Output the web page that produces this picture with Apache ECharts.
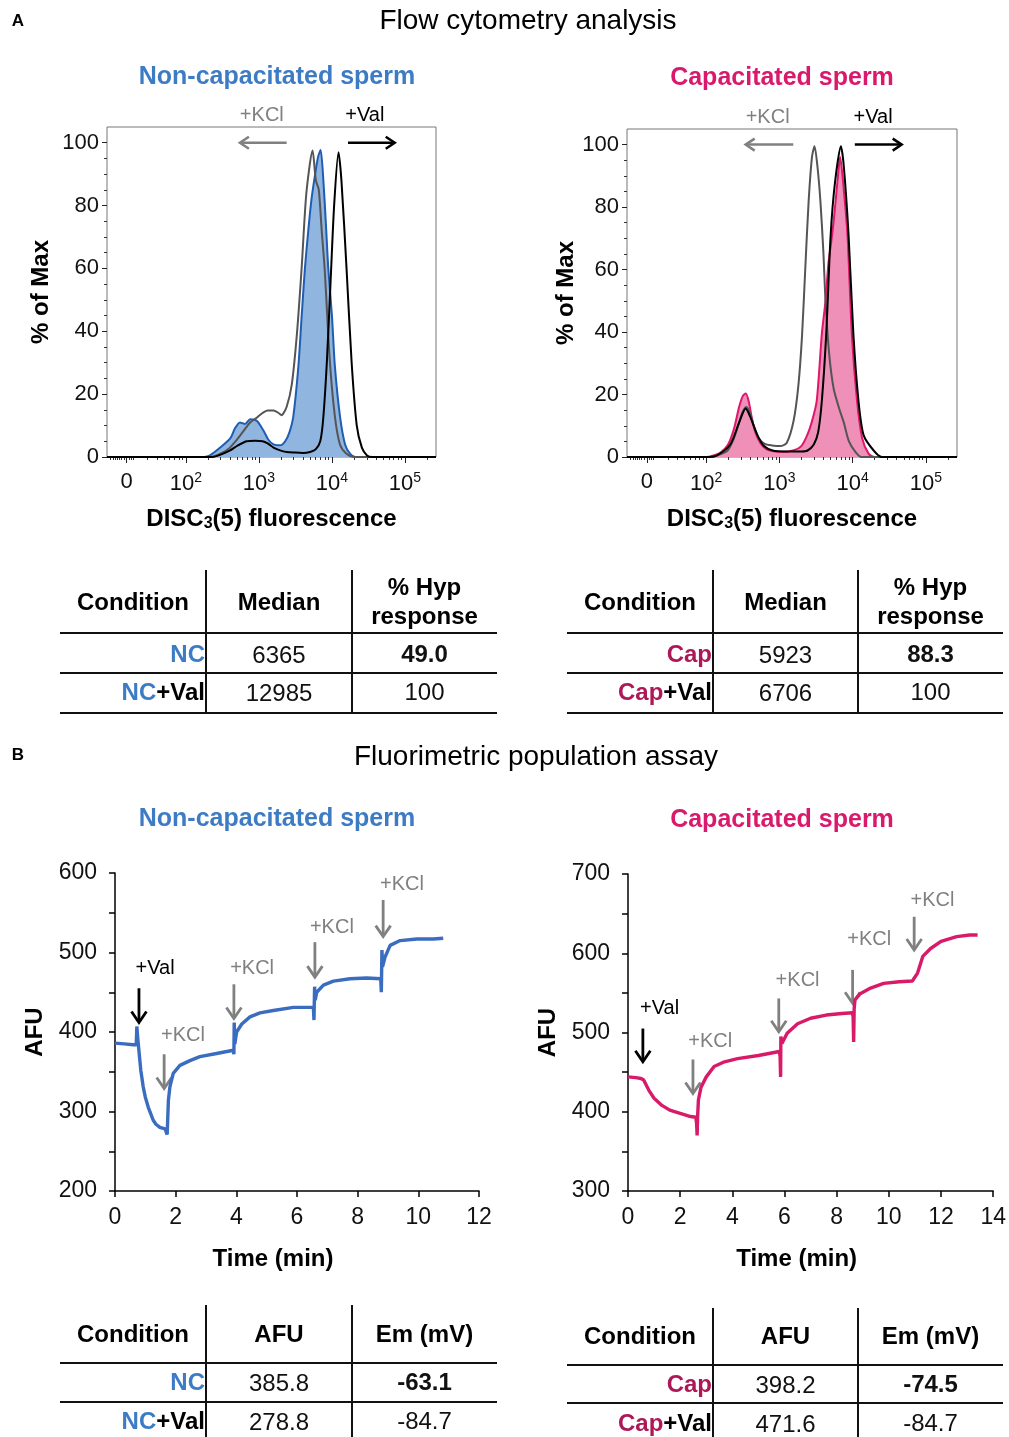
<!DOCTYPE html>
<html><head><meta charset="utf-8">
<script src="https://cdn.jsdelivr.net/npm/echarts@6/dist/echarts.min.js"></script>
<style>html,body{margin:0;padding:0;background:#fff}#c{width:1009px;height:1437px}</style>
</head><body><div id="c"></div>
<script>
const FONT = '"Liberation Sans", Arial, Helvetica, sans-serif';
const BLUE = '#3d7cc4', BLUE_LINE = '#1f5db3', BLUE_FILL = '#90b5df';
const PINK = '#d9196b', PINK_LINE = '#e0176d', PINK_FILL = '#ee90b8', MAROON = '#ad1857';
const GRAY_LINE = '#555555', ARROW_GRAY = '#808080';

// ---------- A: flow cytometry histograms (x = log10 fluorescence, y = % of max) ----------
const ncFill = [[0.92,0],[2.25,0],[2.33,0.5],[2.47,3],[2.61,6],[2.67,9],[2.74,11],[2.81,10.5],[2.88,12],[2.97,11.5],[3.06,8.5],[3.13,5.5],[3.2,4],[3.29,3.7],[3.36,5],[3.42,8],[3.47,12.7],[3.54,28.7],[3.585,44.6],[3.63,60],[3.68,73],[3.72,82],[3.77,90],[3.81,95.5],[3.845,97.7],[3.88,89],[3.92,73],[3.95,60],[4.0,45],[4.04,29],[4.11,13],[4.18,4],[4.25,1],[4.32,0],[5.425,0]];
const ncKCl = [[0.92,0],[2.35,0],[2.45,0.8],[2.58,2.5],[2.68,5],[2.78,8],[2.88,11],[2.97,12.5],[3.05,14],[3.12,14.8],[3.2,14.8],[3.27,14],[3.31,13.3],[3.38,16],[3.45,23],[3.52,39],[3.585,60],[3.65,84],[3.735,97.5],[3.78,88],[3.82,85],[3.86,72],[3.90,60],[3.97,31],[4.04,13],[4.11,4],[4.2,1],[4.3,0],[5.425,0]];
const ncVal = [[0.92,0],[2.35,0],[2.45,0.5],[2.6,2],[2.7,3.5],[2.83,5],[2.95,5.2],[3.05,5],[3.12,4.3],[3.2,3],[3.28,2.2],[3.38,1.6],[3.5,1.4],[3.6,1.3],[3.7,1.6],[3.78,2.5],[3.84,5],[3.88,12],[3.93,30],[3.98,55],[4.03,80],[4.09,97],[4.13,88],[4.2,60],[4.27,30],[4.34,10],[4.41,3],[4.48,0.5],[4.55,0],[5.425,0]];

const capFill = [[0.92,0],[2.0,0],[2.1,0.5],[2.2,1.5],[2.3,4],[2.38,9],[2.45,16],[2.5,19.5],[2.54,20.3],[2.58,18],[2.62,13],[2.67,8],[2.74,4.5],[2.82,2.5],[2.92,1.8],[3.05,1.6],[3.2,2.2],[3.3,3.5],[3.38,7],[3.44,11],[3.51,18],[3.58,39.5],[3.63,50],[3.67,62],[3.72,71],[3.76,80],[3.8,90],[3.83,96],[3.87,88],[3.93,71],[3.99,39],[4.06,18],[4.13,6],[4.22,1],[4.3,0],[5.425,0]];
const capKCl = [[0.92,0],[2.05,0],[2.15,0.5],[2.29,2],[2.38,6],[2.45,11],[2.5,14.5],[2.55,16],[2.6,14],[2.65,10],[2.72,6],[2.8,4.2],[2.9,3.7],[3.01,3.5],[3.1,4.5],[3.195,11.7],[3.26,23],[3.31,39],[3.355,61],[3.4,82],[3.445,96],[3.48,99.5],[3.52,93],[3.56,82],[3.6,66],[3.63,50],[3.68,33],[3.74,22],[3.81,16],[3.88,11],[3.95,5],[4.04,1.6],[4.12,0],[5.425,0]];
const capVal = [[0.92,0],[2.05,0],[2.15,0.5],[2.33,4],[2.45,11],[2.54,15.5],[2.6,13],[2.7,7],[2.79,3.5],[2.92,2],[3.1,1.8],[3.3,1.8],[3.38,2],[3.47,4],[3.53,8],[3.58,18],[3.64,39.5],[3.70,71],[3.76,88],[3.84,99.5],[3.88,93],[3.945,71],[4.01,39.5],[4.08,18],[4.15,7],[4.29,2],[4.4,0],[5.425,0]];

const histYLabels = [0, 20, 40, 60, 80, 100];
const histYMinor = [5,10,15,25,30,35,45,50,55,65,70,75,85,90,95];
const zeroPos = 1.19;
const histXLabels = [zeroPos, 2, 3, 4, 5];

// ---------- B: fluorimetric traces (time in min, AFU) ----------
const ncTrace = [[0,386],[0.3,385],[0.6,384],[0.7,384],[0.72,407],[0.75,392],[0.78,380],[0.85,352],[0.93,331],[1.0,318],[1.1,305],[1.18,297],[1.26,289],[1.35,284],[1.48,280],[1.65,278],[1.7,276],[1.72,271],[1.76,314],[1.81,331],[1.92,348],[2.14,358],[2.47,364],[2.8,369],[3.35,373],[3.9,377],[3.92,372],[3.93,412],[3.95,385],[4.01,400],[4.18,410],[4.45,419],[4.78,424],[5.22,427],[5.88,431],[6.54,431],[6.56,415],[6.58,457],[6.6,440],[6.65,450],[6.87,459],[7.2,464],[7.75,467],[8.3,468],[8.76,467],[8.78,450],[8.8,503],[8.82,482],[8.9,494],[9.07,509],[9.4,515],[9.95,517],[10.5,517],[10.82,518]];
const capTrace = [[0,444],[0.3,443],[0.5,442],[0.6,440],[0.8,427],[1.0,417],[1.3,408],[1.6,402],[2.0,398],[2.4,394],[2.6,393],[2.63,385],[2.65,370],[2.67,395],[2.7,415],[2.8,431],[3.0,444],[3.3,457],[3.7,463],[4.2,467],[5.0,471],[5.8,476],[5.83,470],[5.85,444],[5.86,495],[5.9,486],[6.1,499],[6.5,511],[7.0,518],[7.6,522],[8.2,524],[8.6,525],[8.63,520],[8.65,488],[8.67,530],[8.7,541],[8.9,549],[9.3,556],[9.8,562],[10.4,564],[10.9,565],[11.1,575],[11.3,596],[11.6,606],[12.0,615],[12.6,621],[13.1,623],[13.4,623]];

// ---------- Tables ----------
const flowNC_cond = ['NC', 'NC+Val'], flowNC_median = ['6365', '12985'], flowNC_hyp = ['49.0', '100'];
const flowCap_cond = ['Cap', 'Cap+Val'], flowCap_median = ['5923', '6706'], flowCap_hyp = ['88.3', '100'];
const fluoNC_cond = ['NC', 'NC+Val'], fluoNC_afu = ['385.8', '278.8'], fluoNC_em = ['-63.1', '-84.7'];
const fluoCap_cond = ['Cap', 'Cap+Val'], fluoCap_afu = ['398.2', '471.6'], fluoCap_em = ['-74.5', '-84.7'];
const flowHeader = ['Condition', 'Median', '% Hyp\nresponse'];
const fluoHeader = ['Condition', 'AFU', 'Em (mV)'];

// ---------- Annotations (in data coordinates) ----------
const ncFlowNotes = [
  {label:'+KCl', color:ARROW_GRAY, text:[3.04,108.6], from:[3.38,100], to:[2.74,100]},
  {label:'+Val', color:'#000', text:[4.45,108.6], from:[4.22,100], to:[4.86,100]}
];
const capFlowNotes = [
  {label:'+KCl', color:ARROW_GRAY, text:[2.84,108.6], from:[3.19,100], to:[2.54,100]},
  {label:'+Val', color:'#000', text:[4.28,108.6], from:[4.03,100], to:[4.67,100]}
];
const ncTraceNotes = [
  {label:'+Val', color:'#000', text:[1.32,480], from:[0.79,455], to:[0.79,412]},
  {label:'+KCl', color:ARROW_GRAY, text:[2.24,396], from:[1.62,372], to:[1.62,329]},
  {label:'+KCl', color:ARROW_GRAY, text:[4.52,480], from:[3.92,460], to:[3.92,417]},
  {label:'+KCl', color:ARROW_GRAY, text:[7.15,532], from:[6.59,513], to:[6.59,469]},
  {label:'+KCl', color:ARROW_GRAY, text:[9.46,585], from:[8.84,566], to:[8.84,520]}
];
const capTraceNotes = [
  {label:'+Val', color:'#000', text:[1.21,530], from:[0.57,505], to:[0.57,463]},
  {label:'+KCl', color:ARROW_GRAY, text:[3.15,489], from:[2.49,466], to:[2.49,423]},
  {label:'+KCl', color:ARROW_GRAY, text:[6.5,566], from:[5.78,543], to:[5.78,501]},
  {label:'+KCl', color:ARROW_GRAY, text:[9.25,617], from:[8.61,579], to:[8.61,537]},
  {label:'+KCl', color:ARROW_GRAY, text:[11.67,666], from:[10.97,646], to:[10.97,604]}
];

// ---------- axis helpers ----------
const histXMin = 0.92, histXMax = 5.425;
const histMajorTicks = [zeroPos, 2, 3, 4, 5];
const histMinorTicks = [0.97,1.0,1.03,1.06,1.09,1.12,1.15,1.22,1.25,1.28];
for (let k = 1; k <= 5; k++) for (let m = 2; m <= 9; m++) {
  const v = k + Math.log10(m);
  if (v > 1.4 && v < histXMax) histMinorTicks.push(v);
}
const TXT = '#111';

function histXAxis(g) {
  return {
    type:'value', gridIndex:g, min:histXMin, max:histXMax, position:'bottom',
    axisLine:{show:false}, splitLine:{show:false},
    axisTick:{show:true, customValues:histMajorTicks, length:6, lineStyle:{color:'#222', width:1}},
    axisLabel:{customValues:histXLabels, fontSize:22, color:TXT, margin:14, fontFamily:FONT,
      formatter: v => Math.abs(v - zeroPos) < 0.01 ? '0' : '10{sup|' + Math.round(v) + '}',
      rich:{sup:{fontSize:14, color:TXT, fontFamily:FONT, padding:[0,0,12,0]}}},
    name:'{b|DISC}{s|3}{b|(5) fluorescence}', nameLocation:'middle', nameGap:49,
    nameTextStyle:{rich:{b:{fontSize:24, fontWeight:'bold', color:'#000', fontFamily:FONT},
      s:{fontSize:16, fontWeight:'bold', color:'#000', fontFamily:FONT, padding:[10,0,0,0]}}}
  };
}
function histXMinorAxis(g) {
  return {type:'value', gridIndex:g, min:histXMin, max:histXMax, position:'bottom',
    axisLine:{show:false}, splitLine:{show:false}, axisLabel:{show:false},
    axisTick:{show:true, customValues:histMinorTicks, length:3, lineStyle:{color:'#333', width:1}}};
}
function histYAxis(g, gap) {
  return {type:'value', gridIndex:g, min:0, max:105, position:'left',
    axisLine:{show:false}, splitLine:{show:false},
    axisTick:{show:true, customValues:histYLabels, length:5, lineStyle:{color:'#222'}},
    axisLabel:{customValues:histYLabels, fontSize:22, color:TXT, margin:8, fontFamily:FONT},
    name:'% of Max', nameLocation:'middle', nameGap:gap,
    nameTextStyle:{fontSize:24, fontWeight:'bold', color:'#000', fontFamily:FONT}};
}
function histYMinorAxis(g) {
  return {type:'value', gridIndex:g, min:0, max:105, position:'left',
    axisLine:{show:false}, splitLine:{show:false}, axisLabel:{show:false},
    axisTick:{show:true, customValues:histYMinor, length:3, lineStyle:{color:'#333'}}};
}
function timeXAxis(g, max, shift) {
  return {type:'value', gridIndex:g, min:0, max:max, interval:2,
    axisLine:{show:true, onZero:false, lineStyle:{color:'#000', width:1.5}},
    axisTick:{show:true, length:6, lineStyle:{color:'#000', width:1.5}},
    axisLabel:{fontSize:23, color:TXT, margin:15, fontFamily:FONT}, splitLine:{show:false},
    name:'Time (min)', nameLocation:'middle', nameGap:56,
    nameTextStyle:{fontSize:24, fontWeight:'bold', color:'#000', fontFamily:FONT, padding:[0, shift, 0, 0]}};
}
function timeYAxis(g, min, max) {
  return {type:'value', gridIndex:g, min:min, max:max, interval:50,
    axisLine:{show:true, onZero:false, lineStyle:{color:'#000', width:1.5}},
    axisTick:{show:true, length:6, lineStyle:{color:'#000', width:1.5}},
    axisLabel:{fontSize:23, color:TXT, margin:18, fontFamily:FONT,
      formatter: v => (v % 100 === 0 ? String(v) : '')},
    splitLine:{show:false},
    name:'AFU', nameLocation:'middle', nameGap:68,
    nameTextStyle:{fontSize:24, fontWeight:'bold', color:'#000', fontFamily:FONT}};
}
function histLine(data, xi, yi, color, fill) {
  const s = {type:'line', data:data, xAxisIndex:xi, yAxisIndex:yi, showSymbol:false, smooth:0.25,
    lineStyle:{color:color, width:2}, itemStyle:{color:color}, silent:true};
  if (fill) s.areaStyle = {color:fill, opacity:1};
  return s;
}

const frame = {show:true, borderColor:'#777', borderWidth:1, backgroundColor:'transparent'};
const option = {
  animation:false,
  textStyle:{fontFamily:FONT},
  grid:[
    Object.assign({left:107, top:127, width:329, height:330}, frame),
    Object.assign({left:627, top:129, width:330, height:328}, frame),
    {left:115, top:873, width:364, height:318},
    {left:628, top:874, width:366, height:317}
  ],
  xAxis:[histXAxis(0), histXMinorAxis(0), histXAxis(1), histXMinorAxis(1), timeXAxis(2, 12, 48), timeXAxis(3, 14, 28)],
  yAxis:[histYAxis(0, 54), histYMinorAxis(0), histYAxis(1, 48), histYMinorAxis(1), timeYAxis(2, 200, 600), timeYAxis(3, 300, 700)],
  series:[
    histLine(ncFill, 0, 0, BLUE_LINE, BLUE_FILL),
    histLine(ncKCl, 0, 0, GRAY_LINE),
    histLine(ncVal, 0, 0, '#000'),
    histLine(capFill, 2, 2, PINK_LINE, PINK_FILL),
    histLine(capKCl, 2, 2, GRAY_LINE),
    histLine(capVal, 2, 2, '#000'),
    {type:'line', data:ncTrace, xAxisIndex:4, yAxisIndex:4, showSymbol:false, lineStyle:{color:'#3a6cc0', width:3.4}, silent:true},
    {type:'line', data:capTrace, xAxisIndex:5, yAxisIndex:5, showSymbol:false, lineStyle:{color:'#d91a69', width:3.4}, silent:true}
  ]
};

const chart = echarts.init(document.getElementById('c'), null, {renderer:'canvas'});
chart.setOption(option);

// ---------- graphic: titles, tables, annotations ----------
const G = [];
function txt(text, x, y, size, weight, color, align) {
  G.push({type:'text', silent:true, style:{text:text, x:x, y:y, fontSize:size, fontWeight:weight || 'normal',
    fontFamily:FONT, fill:color || '#000', align:align || 'center', verticalAlign:'middle', lineHeight:29}});
}
txt('A', 18, 21, 17, 'bold');
txt('Flow cytometry analysis', 528, 21, 28);
txt('Non-capacitated sperm', 277, 77, 25, 'bold', BLUE);
txt('Capacitated sperm', 782, 78, 25, 'bold', PINK);
txt('B', 18, 755, 17, 'bold');
txt('Fluorimetric population assay', 536, 757, 28);
txt('Non-capacitated sperm', 277, 819, 25, 'bold', BLUE);
txt('Capacitated sperm', 782, 820, 25, 'bold', PINK);

function L(x1, y1, x2, y2, color, w) {
  G.push({type:'line', silent:true, shape:{x1:x1, y1:y1, x2:x2, y2:y2}, style:{stroke:color || '#111', lineWidth:w || 2}});
}
function table(t, header, conds, col2, col3, condColor) {
  t.hLines.forEach(y => L(t.x0, y, t.x1, y));
  L(t.v1, t.vTop, t.v1, t.vBottom); L(t.v2, t.vTop, t.v2, t.vBottom);
  const c1 = (t.x0 + t.v1) / 2, c2 = (t.v1 + t.v2) / 2, c3 = (t.v2 + t.x1) / 2;
  txt(header[0], c1, t.headerY, 24, 'bold');
  txt(header[1], c2, t.headerY, 24, 'bold');
  txt(header[2], c3, t.headerY, 24, 'bold');
  conds.forEach((c, i) => {
    const parts = c.split('+');
    const text = '{c|' + parts[0] + '}' + (parts[1] ? '{k|+' + parts[1] + '}' : '');
    G.push({type:'text', silent:true, style:{text:text, x:t.v1 - 1, y:t.rowY[i], align:'right', verticalAlign:'middle',
      rich:{c:{fill:condColor, fontWeight:'bold', fontSize:24, fontFamily:FONT},
            k:{fill:'#000', fontWeight:'bold', fontSize:24, fontFamily:FONT}}}});
    txt(col2[i], c2, t.rowY[i] + 1, 24, 'normal', TXT);
    txt(col3[i], c3, t.rowY[i], 24, i === 0 ? 'bold' : 'normal', TXT);
  });
}
table({x0:60, x1:497, v1:206, v2:352, vTop:570, vBottom:713, hLines:[633, 673, 713], headerY:603, rowY:[655, 693]},
  flowHeader, flowNC_cond, flowNC_median, flowNC_hyp, BLUE);
table({x0:567, x1:1003, v1:713, v2:858, vTop:570, vBottom:713, hLines:[633, 673, 713], headerY:603, rowY:[655, 693]},
  flowHeader, flowCap_cond, flowCap_median, flowCap_hyp, MAROON);
table({x0:60, x1:497, v1:206, v2:352, vTop:1305, vBottom:1437, hLines:[1363, 1402], headerY:1335, rowY:[1383, 1422]},
  fluoHeader, fluoNC_cond, fluoNC_afu, fluoNC_em, BLUE);
table({x0:567, x1:1003, v1:713, v2:858, vTop:1308, vBottom:1437, hLines:[1365, 1403], headerY:1337, rowY:[1385, 1424]},
  fluoHeader, fluoCap_cond, fluoCap_afu, fluoCap_em, MAROON);

function arrow(p1, p2, color, w, len, half) {
  const dx = p2[0] - p1[0], dy = p2[1] - p1[1], d = Math.hypot(dx, dy);
  const ux = dx / d, uy = dy / d, nx = -uy, ny = ux;
  L(p1[0], p1[1], p2[0] - ux * 1.5, p2[1] - uy * 1.5, color, w);
  const bx = p2[0] - ux * len, by = p2[1] - uy * len;
  G.push({type:'polyline', silent:true, shape:{points:[[bx + nx * half, by + ny * half], [p2[0], p2[1]], [bx - nx * half, by - ny * half]]},
    style:{stroke:color, lineWidth:w, fill:null, lineJoin:'miter'}});
}
function notes(list, xi, yi, w, len, half) {
  list.forEach(n => {
    const f = {xAxisIndex:xi, yAxisIndex:yi};
    const tp = chart.convertToPixel(f, n.text);
    const a = chart.convertToPixel(f, n.from), b = chart.convertToPixel(f, n.to);
    txt(n.label, tp[0], tp[1], 20, 'normal', n.color);
    arrow(a, b, n.color, w, len, half);
  });
}
notes(ncFlowNotes, 0, 0, 2.5, 9, 6);
notes(capFlowNotes, 2, 2, 2.5, 9, 6);
notes(ncTraceNotes, 4, 4, 2.8, 11, 7.5);
notes(capTraceNotes, 5, 5, 2.8, 11, 7.5);

chart.setOption({graphic:G});
</script></body></html>
